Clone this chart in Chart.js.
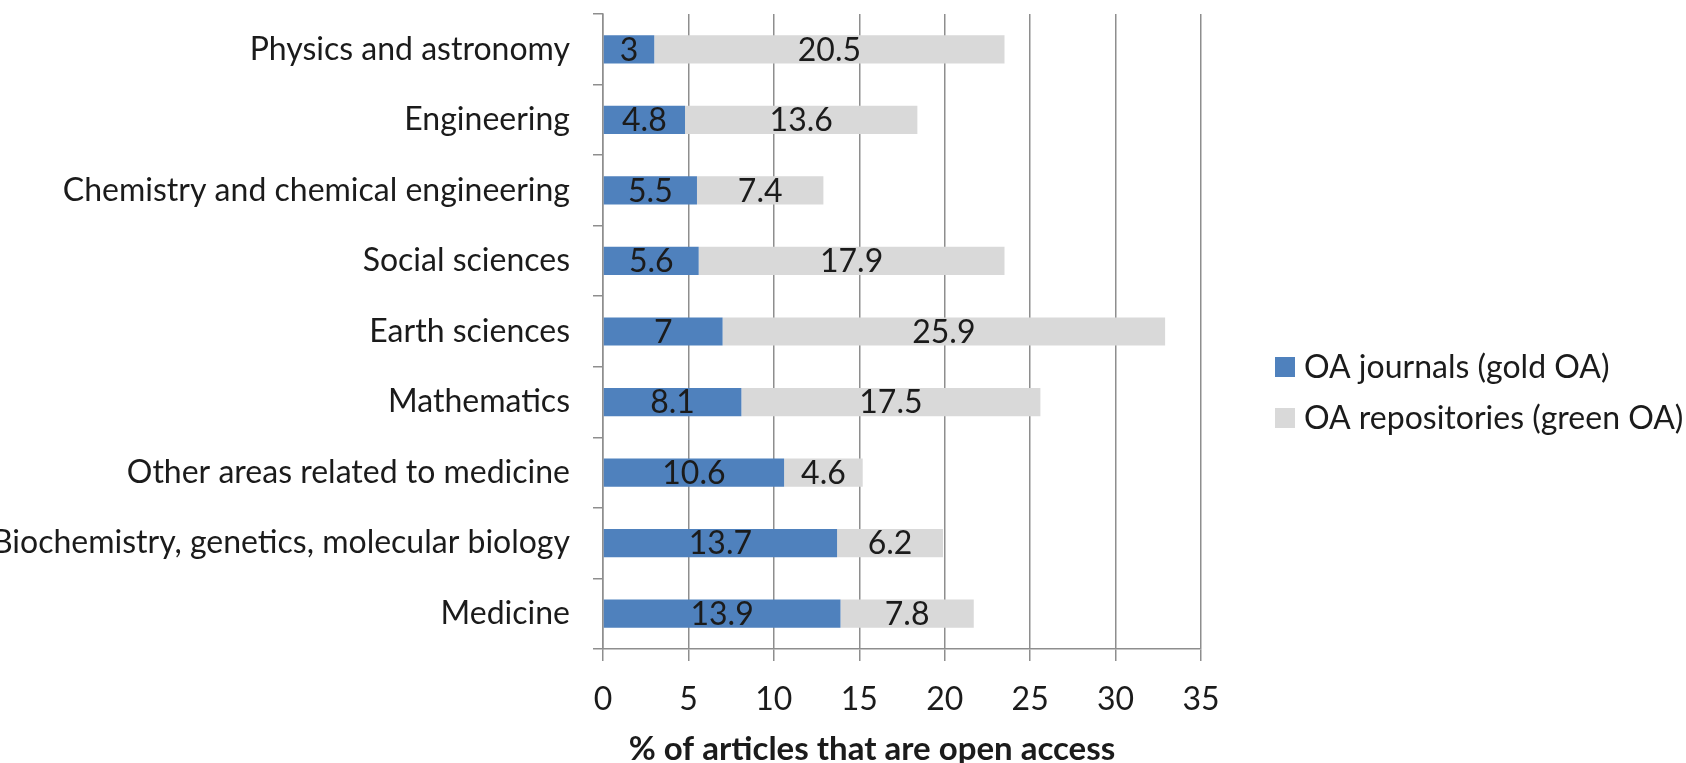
<!DOCTYPE html>
<html>
<head>
<meta charset="utf-8">
<script src="https://cdn.jsdelivr.net/npm/chart.js@4.4.1/dist/chart.umd.min.js"></script>
<style>
  html, body { margin: 0; padding: 0; background: #ffffff; }
  #wrap { width: 1686px; height: 763px; position: relative; }
</style>
</head>
<body>
<div id="wrap"><canvas id="c" width="1686" height="763"></canvas></div>
<script>
// Subject areas, top to bottom
const categories = [
  'Physics and astronomy',
  'Engineering',
  'Chemistry and chemical engineering',
  'Social sciences',
  'Earth sciences',
  'Mathematics',
  'Other areas related to medicine',
  'Biochemistry, genetics, molecular biology',
  'Medicine'
];
// Share of articles in OA journals (gold OA), %
const goldOA = [3, 4.8, 5.5, 5.6, 7, 8.1, 10.6, 13.7, 13.9];
// Share of articles in OA repositories (green OA), %
const greenOA = [20.5, 13.6, 7.4, 17.9, 25.9, 17.5, 4.6, 6.2, 7.8];
const seriesNames = ['OA journals (gold OA)', 'OA repositories (green OA)'];
const xTickValues = [0, 5, 10, 15, 20, 25, 30, 35];
const axisTitle = '% of articles that are open access';

const FONT = 'Lato, "Open Sans", sans-serif';
const FONT_SIZE = 32;
const TEXT = '#1b1b1b';
const GRID = '#8e8e8e';
const BLUE = '#4f81bd';
const GREY = '#d9d9d9';

// Value labels centred inside each bar segment
const segmentLabels = {
  id: 'segmentLabels',
  afterDatasetsDraw(chart) {
    const ctx = chart.ctx;
    ctx.save();
    ctx.font = FONT_SIZE + 'px ' + FONT;
    ctx.fillStyle = TEXT;
    ctx.textAlign = 'center';
    ctx.textBaseline = 'middle';
    chart.data.datasets.forEach((ds, i) => {
      const meta = chart.getDatasetMeta(i);
      meta.data.forEach((bar, j) => {
        const x = (bar.x + bar.base) / 2;
        ctx.fillText(String(ds.data[j]), x, bar.y + 1);
      });
    });
    ctx.restore();
  }
};

// Legend to the right of the plot and the x-axis title below it
const sideLegend = {
  id: 'sideLegend',
  afterDraw(chart) {
    const ctx = chart.ctx;
    const area = chart.chartArea;
    ctx.save();
    ctx.font = FONT_SIZE + 'px ' + FONT;
    ctx.textBaseline = 'middle';
    ctx.textAlign = 'left';
    const x0 = area.right + 74;
    const ys = [area.top + 353, area.top + 404];
    chart.data.datasets.forEach((ds, i) => {
      ctx.fillStyle = ds.backgroundColor;
      ctx.fillRect(x0, ys[i] - 10, 20, 20);
      ctx.fillStyle = TEXT;
      ctx.fillText(ds.label, x0 + 29, ys[i] + 1);
    });
    ctx.font = 'bold 33px ' + FONT;
    ctx.textAlign = 'center';
    ctx.fillText(axisTitle, area.left + 269, area.bottom + 100);
    ctx.restore();
  }
};

new Chart(document.getElementById('c'), {
  type: 'bar',
  data: {
    labels: categories,
    datasets: [
      { label: seriesNames[0], data: goldOA, backgroundColor: BLUE, borderWidth: 0,
        barPercentage: 0.4, categoryPercentage: 1.0 },
      { label: seriesNames[1], data: greenOA, backgroundColor: GREY, borderWidth: 0,
        barPercentage: 0.4, categoryPercentage: 1.0 }
    ]
  },
  options: {
    indexAxis: 'y',
    responsive: false,
    animation: false,
    devicePixelRatio: 1,
    layout: { padding: { top: 14, right: 485, left: 0, bottom: 0 } },
    plugins: {
      legend: { display: false },
      tooltip: { enabled: false },
      title: { display: false }
    },
    scales: {
      x: {
        stacked: true,
        min: 0,
        max: 35,
        afterBuildTicks(scale) { scale.ticks = xTickValues.map(v => ({ value: v })); },
        afterFit(scale) { scale.height = 114; scale.paddingLeft = 0; scale.paddingRight = 0; },
        grid: { color: GRID, lineWidth: 1.5, tickLength: 12, drawOnChartArea: true },
        border: { color: GRID, width: 1.5 },
        ticks: { color: TEXT, font: { family: FONT, size: FONT_SIZE }, padding: 19, maxRotation: 0 }
      },
      y: {
        stacked: true,
        afterFit(scale) { scale.width = 603; scale.paddingTop = 0; scale.paddingBottom = 0; },
        grid: { color: GRID, lineWidth: 1.5, tickLength: 10, drawOnChartArea: false, offset: true },
        border: { color: GRID, width: 1.5 },
        ticks: { color: TEXT, font: { family: FONT, size: FONT_SIZE }, padding: 23, autoSkip: false }
      }
    }
  },
  plugins: [segmentLabels, sideLegend]
});
</script>
</body>
</html>
